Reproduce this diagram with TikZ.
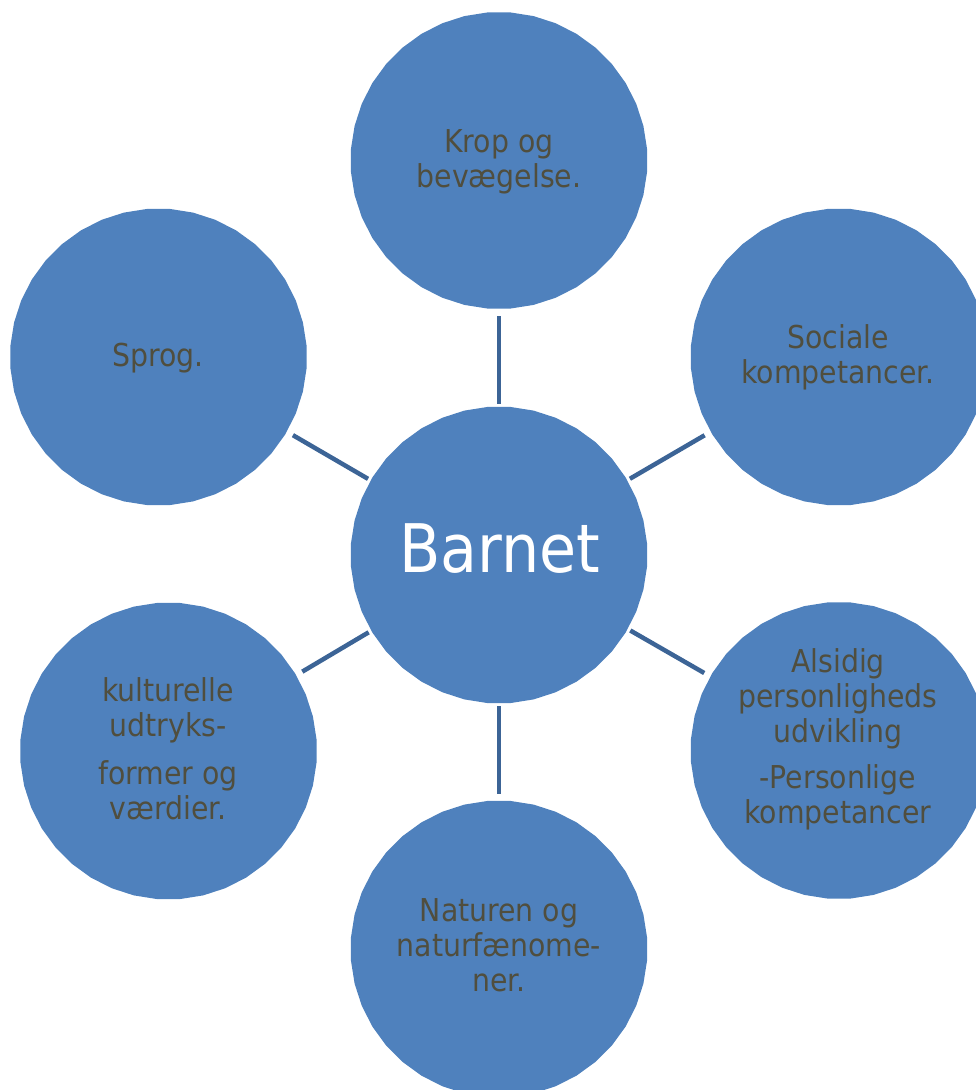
\documentclass[tikz,border=0pt]{standalone}
\usepackage{fontspec}
\setmainfont{DejaVu Sans Condensed}
\usetikzlibrary{shapes.geometric}
\definecolor{cfill}{RGB}{79,129,189}
\definecolor{cline}{RGB}{60,100,150}
\definecolor{ctext}{RGB}{80,78,62}
\tikzset{
  bubble/.style={regular polygon, regular polygon sides=40, minimum size=297pt, inner sep=0pt, fill=cfill, draw=none},
  lbl/.style={text=ctext, align=center, font=\fontsize{31.5}{35}\selectfont, inner sep=0pt},
  conn/.style={draw=cline, line width=4.5pt, shorten <=3pt, shorten >=7pt}
}
\begin{document}
\begin{tikzpicture}[x=1pt,y=-1pt]
\useasboundingbox (0,0) rectangle (976,1090);
\clip (0,0) rectangle (976,1090);
\node[bubble] (ctr) at (499,555) {};
\node[bubble] (top) at (499,160.5) {};
\node[bubble] (tr) at (839,357) {};
\node[bubble] (tl) at (158.5,357) {};
\node[bubble] (br) at (839,750.5) {};
\node[bubble] (bl) at (168.5,751) {};
\node[bubble] (bot) at (499,949) {};
\draw[conn] (ctr) -- (top);
\draw[conn] (ctr) -- (tr);
\draw[conn] (ctr) -- (tl);
\draw[conn] (ctr) -- (br);
\draw[conn] (ctr) -- (bl);
\draw[conn] (ctr) -- (bot);
\node[text=white, inner sep=0pt, font=\fontsize{67}{80}\selectfont] (lctr) at (499.5,548.5) {Barnet};
\node[lbl] (ltop) at (499,162) {Krop og\\bevægelse.};
\node[lbl] (ltr) at (838,357.5) {Sociale\\kompetancer.};
\node[lbl] (ltl) at (158,358) {Sprog.};
\node[lbl] (lbr) at (838,739) {Alsidig\\personligheds\\udvikling\\[11pt]-Personlige\\kompetancer};
\node[lbl] (lbl) at (168,748.5) {kulturelle\\udtryks-\\[13pt]former og\\værdier.};
\node[lbl] (lbot) at (499,945) {Naturen og\\naturfænome-\\ner.};
\end{tikzpicture}
\end{document}
